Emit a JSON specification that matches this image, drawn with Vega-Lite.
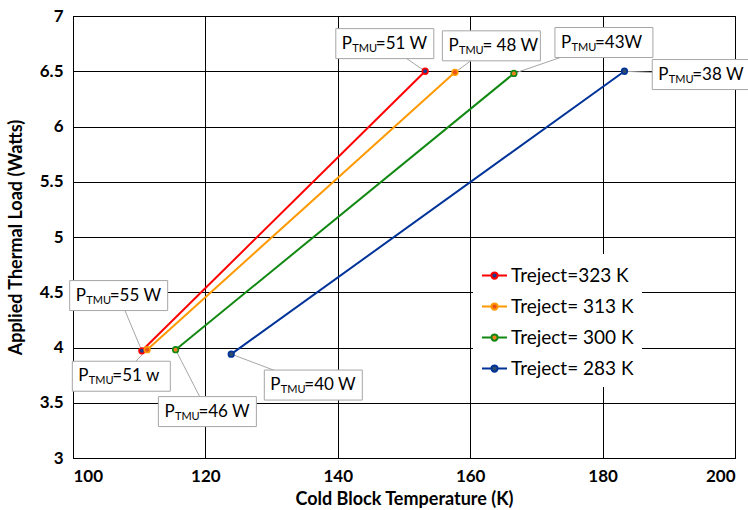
{
  "$schema": "https://vega.github.io/schema/vega-lite/v6.json",
  "width": 662,
  "height": 442,
  "autosize": {"type": "none"},
  "padding": {"left": 73, "top": 16, "right": 13, "bottom": 52},
  "background": "white",
  "config": {
    "font": "Lato",
    "view": {"stroke": "black", "strokeWidth": 1},
    "axis": {
      "grid": true,
      "gridColor": "black",
      "gridOpacity": 1,
      "gridWidth": 1,
      "domainColor": "black",
      "ticks": false,
      "labelFont": "Lato",
      "labelFontSize": 17,
      "labelFontWeight": "bold",
      "labelColor": "black",
      "titleFont": "Lato",
      "titleFontSize": 18,
      "titleFontWeight": "bold",
      "titleColor": "black"
    }
  },
  "datasets": {
    "lines": [
      {"series": "Treject=323 K", "x": 110.4, "y": 3.97},
      {"series": "Treject=323 K", "x": 153.2, "y": 6.5},
      {"series": "Treject= 313 K", "x": 111.2, "y": 3.98},
      {"series": "Treject= 313 K", "x": 157.7, "y": 6.49},
      {"series": "Treject= 300 K", "x": 115.5, "y": 3.98},
      {"series": "Treject= 300 K", "x": 166.6, "y": 6.48},
      {"series": "Treject= 283 K", "x": 123.9, "y": 3.94},
      {"series": "Treject= 283 K", "x": 183.3, "y": 6.5}
    ],
    "notes": [
      {"x": 153.2, "y": 6.5, "lx": 147.1, "ly": 6.75, "rest": "=51 W"},
      {"x": 157.7, "y": 6.49, "lx": 163.2, "ly": 6.73, "rest": "= 48 W"},
      {"x": 166.6, "y": 6.48, "lx": 180.2, "ly": 6.76, "rest": "=43W"},
      {"x": 183.3, "y": 6.5, "lx": 194.9, "ly": 6.47, "rest": "=38 W"},
      {"x": 110.4, "y": 3.97, "lx": 106.9, "ly": 4.47, "rest": "=55 W"},
      {"x": 111.2, "y": 3.98, "lx": 107.3, "ly": 3.74, "rest": "=51 w"},
      {"x": 115.5, "y": 3.98, "lx": 120.3, "ly": 3.42, "rest": "=46 W"},
      {"x": 123.9, "y": 3.94, "lx": 136.3, "ly": 3.66, "rest": "=40 W"}
    ]
  },
  "layer": [
    {
      "data": {"name": "notes"},
      "mark": {"type": "rule", "color": "#A6A6A6", "strokeWidth": 1},
      "encoding": {
        "x": {"field": "x", "type": "quantitative", "scale": {"domain": [100, 200]}, "axis": {"title": "Cold Block Temperature (K)", "tickCount": 5, "labelPadding": 10, "titlePadding": 6}},
        "y": {"field": "y", "type": "quantitative", "scale": {"domain": [3, 7]}, "axis": {"title": "Applied Thermal Load (Watts)", "tickCount": 8, "format": "~g", "labelPadding": 10, "titlePadding": 14}},
        "x2": {"field": "lx"},
        "y2": {"field": "ly"}
      }
    },
    {
      "data": {"name": "lines"},
      "mark": {"type": "line", "strokeWidth": 2},
      "encoding": {
        "x": {"field": "x", "type": "quantitative"},
        "y": {"field": "y", "type": "quantitative"},
        "color": {
          "field": "series",
          "type": "nominal",
          "scale": {
            "domain": ["Treject=323 K", "Treject= 313 K", "Treject= 300 K", "Treject= 283 K"],
            "range": ["#FF0000", "#FF9900", "#118811", "#003399"]
          },
          "legend": {
            "title": null,
            "orient": "none",
            "legendX": 400,
            "legendY": 238,
            "fillColor": "white",
            "padding": 8,
            "labelFont": "Lato",
            "labelFontSize": 19,
            "labelColor": "black",
            "labelOffset": 3,
            "rowPadding": 7,
            "symbolType": "M-1,0H-0.25M0.25,0H1M-0.25,0A0.25,0.25,0,1,1,0.25,0A0.25,0.25,0,1,1,-0.25,0Z",
            "symbolSize": 625,
            "symbolStrokeWidth": 2,
            "encode": {
              "symbols": {
                "update": {
                  "fill": {"scale": "fill", "field": "value"},
                  "fillOpacity": {"value": 1}
                }
              }
            }
          }
        }
      }
    },
    {
      "data": {"name": "lines"},
      "mark": {"type": "point", "filled": false, "size": 32, "strokeWidth": 1.6, "opacity": 1, "fillOpacity": 1},
      "encoding": {
        "x": {"field": "x", "type": "quantitative"},
        "y": {"field": "y", "type": "quantitative"},
        "stroke": {"field": "series", "type": "nominal", "scale": {"domain": ["Treject=323 K", "Treject= 313 K", "Treject= 300 K", "Treject= 283 K"], "range": ["#FF0000", "#FF9900", "#118811", "#003399"]}, "legend": null},
        "fill": {
          "field": "series",
          "type": "nominal",
          "scale": {
            "domain": ["Treject=323 K", "Treject= 313 K", "Treject= 300 K", "Treject= 283 K"],
            "range": ["#1F3B8C", "#E8501A", "#F08020", "#2F4A6A"]
          },
          "legend": null
        }
      }
    },
    {
      "data": {"name": "notes"},
      "mark": {"type": "point", "shape": "M-1,-0.306H1V0.306H-1Z", "size": 9604, "filled": true, "fill": "white", "stroke": "#A6A6A6", "strokeWidth": 1, "opacity": 1, "fillOpacity": 1},
      "encoding": {
        "x": {"field": "lx", "type": "quantitative"},
        "y": {"field": "ly", "type": "quantitative"}
      }
    },
    {
      "data": {"name": "notes"},
      "mark": {"type": "text", "text": "P", "align": "left", "baseline": "middle", "dx": -43, "dy": 0, "font": "Lato", "fontSize": 17, "color": "black"},
      "encoding": {
        "x": {"field": "lx", "type": "quantitative"},
        "y": {"field": "ly", "type": "quantitative"}
      }
    },
    {
      "data": {"name": "notes"},
      "mark": {"type": "text", "text": "TMU", "align": "left", "baseline": "middle", "dx": -32.5, "dy": 5, "font": "Lato", "fontSize": 11, "color": "black"},
      "encoding": {
        "x": {"field": "lx", "type": "quantitative"},
        "y": {"field": "ly", "type": "quantitative"}
      }
    },
    {
      "data": {"name": "notes"},
      "mark": {"type": "text", "align": "left", "baseline": "middle", "dx": -9, "dy": 0, "font": "Lato", "fontSize": 17, "color": "black"},
      "encoding": {
        "x": {"field": "lx", "type": "quantitative"},
        "y": {"field": "ly", "type": "quantitative"},
        "text": {"field": "rest"}
      }
    }
  ]
}
